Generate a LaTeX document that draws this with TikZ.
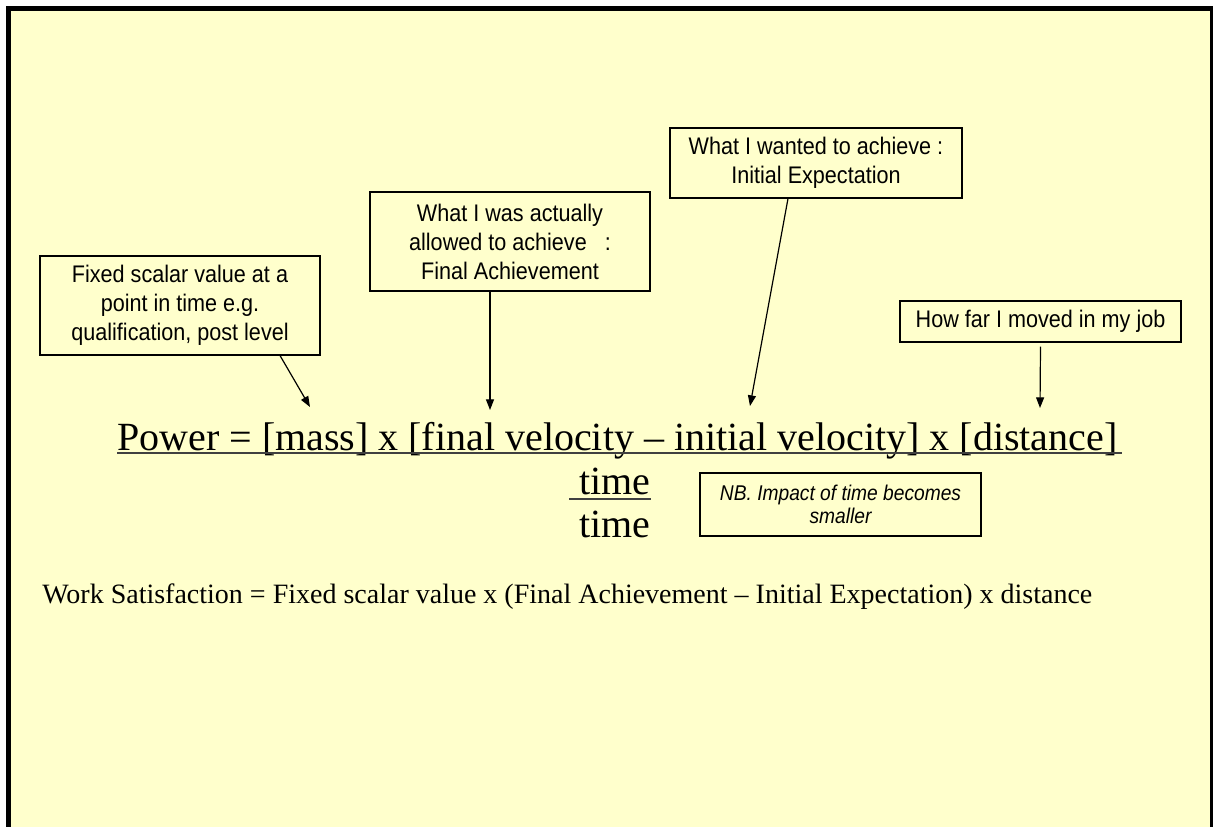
\documentclass[tikz,border=0pt]{standalone}
\usepackage{fontspec}
\setmainfont{Liberation Serif}
\newfontfamily\boxfont[FakeStretch=0.9]{Liberation Sans}
\usetikzlibrary{arrows.meta}
\definecolor{slideyellow}{HTML}{FFFFCC}
\definecolor{linegrey}{HTML}{404040}

\begin{document}
\begin{tikzpicture}[x=0.75pt,y=-0.75pt,
    note/.style={draw=black,line width=0.8pt,inner sep=0pt,align=center,
        font=\boxfont\fontsize{18}{21.75}\selectfont},
    pointer/.style={line width=0.9pt,-{Triangle[length=8pt,width=6pt]}},
    formula/.style={inner sep=0pt,font=\fontsize{30}{36}\selectfont}]
\useasboundingbox (0,0) rectangle (1213,826);
% slide frame
\fill[white] (0,0) rectangle (1213,826);
\fill[black] (6,6) rectangle (1216,830);
\fill[slideyellow] (11,11) rectangle (1210,830);

% call-out boxes
\node[note,minimum width=210pt,minimum height=74.25pt] (fixed) at (180,305.5)
    {Fixed scalar value at a\\point in time e.g.\\qualification, post level};
\node[note,minimum width=210pt,minimum height=74.25pt] (final) at (510,241.5)
    {What I was actually\\allowed to achieve\ \ \ :\\Final Achievement};
\node[note,minimum width=219pt,minimum height=52.5pt] (initial) at (816,163)
    {What I wanted to achieve :\\Initial Expectation};
\node[note,minimum width=210.75pt,minimum height=30.75pt] (moved) at (1040.5,321.5)
    {How far I moved in my job};
\node[note,minimum width=210.75pt,minimum height=47.25pt,
    font=\boxfont\itshape\fontsize{16}{17.25}\selectfont] (nb) at (840.5,504.5)
    {NB. Impact of time becomes\\smaller};

% formula
\node[formula,anchor=base west] (power) at (117,450)
    {Power = [mass] x [final velocity – initial velocity] x [distance]};
\draw[linegrey,line width=1.5pt] ([yshift=-2.25pt]power.base west) -- ([xshift=3pt,yshift=-2.25pt]power.base east);
\node[formula,anchor=base] (time1) at (615,494) {time};
\draw[linegrey,line width=1.5pt] ([xshift=-7.5pt,yshift=-3.75pt]time1.base west) -- ([yshift=-3.75pt]time1.base east);
\node[formula,anchor=base] (time2) at (615,537) {time};

\node[inner sep=0pt,anchor=base west,font=\fontsize{21}{25}\selectfont] (work) at (42,603)
    {Work Satisfaction = Fixed scalar value x (Final Achievement – Initial Expectation) x distance};

% pointers
\coordinate (mass) at (310,407);
\coordinate (finalv) at (490,410);
\coordinate (initv) at (750,406);
\coordinate (dist) at (1040,408);
\draw[pointer] ([xshift=75pt]fixed.south) -- (mass);
\draw[pointer] ([xshift=-15pt]final.south) -- (finalv);
\draw[pointer] ([xshift=-21pt]initial.south) -- (initv);
\draw[pointer] ([yshift=-3pt]moved.south) -- (dist);
\end{tikzpicture}
\end{document}
